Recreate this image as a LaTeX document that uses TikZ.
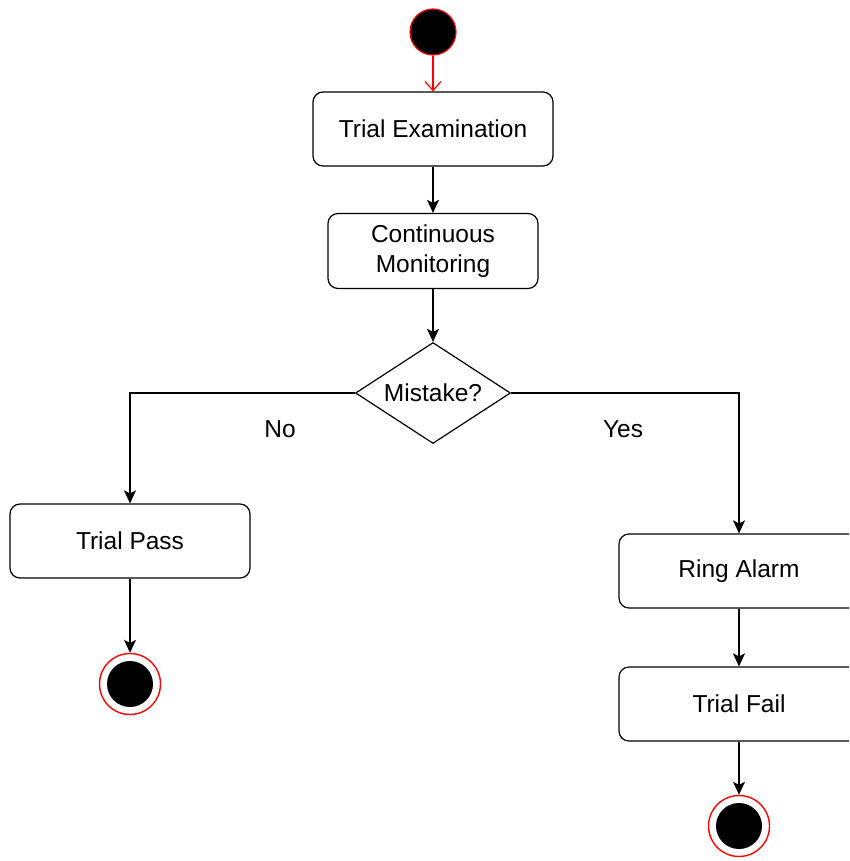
\documentclass[tikz,border=0pt]{standalone}
\usepackage{fontspec}
\setmainfont{Liberation Sans}
\usetikzlibrary{arrows.meta, shapes.geometric, positioning}

\begin{document}
\begin{tikzpicture}[x=1pt, y=-1pt,
    txt/.style={font=\fontsize{24.5}{30}\selectfont},
    act/.style={txt, draw, rounded corners=10pt, line width=1.2pt, minimum height=74pt, align=center, inner sep=0pt},
    decide/.style={txt, draw, diamond, aspect=1.6, line width=1.2pt, inner sep=0pt, minimum width=155pt, minimum height=101pt},
    initial/.style={circle, fill=black, draw=red, line width=1.2pt, minimum size=46pt, inner sep=0pt},
    final/.style={circle, draw=red, line width=1.4pt, minimum size=61pt, inner sep=0pt,
      path picture={\fill[black] (path picture bounding box.center) circle (23pt);}},
    flow/.style={line width=1.3pt, -{Stealth[length=13pt, width=12pt, inset=3pt]}}]

  % Fix the page
  \useasboundingbox (0,0) rectangle (849,861);
  \clip (0,0) rectangle (849,861);

  % Main column
  \node[initial] (start) at (433,32) {};
  \node[act, minimum width=240pt] (exam) at (433,129) {Trial Examination};
  \node[act, minimum width=210pt, minimum height=75pt] (monitor) at (433,251) {Continuous\\Monitoring};
  \node[decide] (mistake) at (433,393) {Mistake?};

  % Left branch
  \node[act, minimum width=240pt] (pass) at (130,541) {Trial Pass};
  \node[final] (endpass) at (130,684) {};

  % Right branch
  \node[act, minimum width=240pt] (alarm) at (739,571) {Ring Alarm};
  \node[act, minimum width=240pt] (fail) at (739,704) {Trial Fail};
  \node[final] (endfail) at (739,826) {};

  % Labels
  \node[txt] (no) at (280,429) {No};
  \node[txt] (yes) at (623,429) {Yes};

  % Connectors
  \draw[red, line width=1.2pt, -{Straight Barb[length=9pt, width=16pt]}] (start) -- (exam);
  \draw[flow] (exam) -- (monitor);
  \draw[flow] (monitor) -- (mistake);
  \draw[flow] (mistake.west) -| (pass.north);
  \draw[flow] (mistake.east) -| (alarm.north);
  \draw[flow] (pass) -- (endpass);
  \draw[flow] (alarm) -- (fail);
  \draw[flow] (fail) -- (endfail);
\end{tikzpicture}
\end{document}
